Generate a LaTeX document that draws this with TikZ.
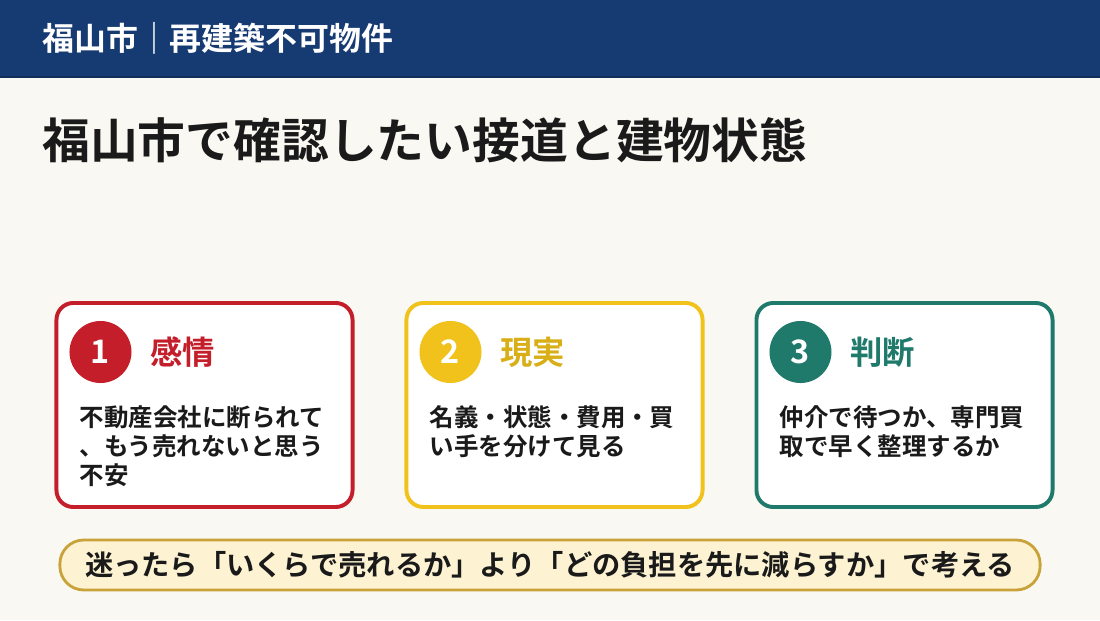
\documentclass[tikz,border=0pt]{standalone}
\usepackage{fontspec}
\setmainfont{Noto Sans CJK JP}[BoldFont={Noto Sans CJK JP Bold}]
\usepackage{xcolor}
\usetikzlibrary{positioning, calc}
\definecolor{navy}{HTML}{163A72}
\definecolor{paper}{HTML}{FAF8F2}
\definecolor{ink}{HTML}{1A1A1A}
\definecolor{feel}{HTML}{C41E2A}
\definecolor{fact}{HTML}{F1C21B}
\definecolor{judge}{HTML}{1F7A6C}
\definecolor{cream}{HTML}{FDF3D3}
\definecolor{gold}{HTML}{C9A23A}

\begin{document}
\begin{tikzpicture}[
  x=0.025cm, y=0.025cm,
  card/.style={draw=#1, line width=2.8pt, rounded corners=12pt, fill=white,
               minimum width=7.4cm, minimum height=5.1cm},
  badge/.style={circle, fill=#1, minimum size=1.55cm, inner sep=0pt,
                text=white, font=\fontsize{23}{23}\selectfont\bfseries},
  head/.style={text=#1, font=\fontsize{23}{23}\selectfont\bfseries, inner sep=0pt, anchor=west},
  body/.style={text=ink, font=\fontsize{17.4}{20.8}\selectfont\bfseries,
               align=left, inner sep=0pt, anchor=north west}
]
  \useasboundingbox (0,0) rectangle (1100,620);
  \fill[paper] (0,0) rectangle (1100,620);

  % header bar
  \fill[navy] (0,543) rectangle (1100,620);
  \draw[navy!80!black, line width=1pt] (0,543) -- (1100,543);
  \node[anchor=west, inner sep=0pt, text=white, font=\fontsize{22.7}{22.7}\selectfont\bfseries]
    (brand) at (42,582) {福山市｜再建築不可物件};

  % title
  \node[anchor=west, inner sep=0pt, text=ink, font=\fontsize{34}{34}\selectfont\bfseries]
    (title) at (42,480) {福山市で確認したい接道と建物状態};

  % cards
  \node[card=feel]  (c1) at (204.5,215) {};
  \node[card=fact]  (c2) at (554.5,215) {};
  \node[card=judge] (c3) at (904.5,215) {};

  \node[badge=feel]  (b1) at ($(c1.north west)+(46,-51)$) {1};
  \node[badge=fact]  (b2) at ($(c2.north west)+(46,-51)$) {2};
  \node[badge=judge] (b3) at ($(c3.north west)+(46,-51)$) {3};

  \node[head=feel,  right=13pt of b1.east, anchor=west] (h1) {感情};
  \node[head=fact!90!black, right=13pt of b2.east, anchor=west] (h2) {現実};
  \node[head=judge, right=13pt of b3.east, anchor=west] (h3) {判断};

  \node[body] (t1) at ($(c1.north west)+(25,-104)$) {不動産会社に断られて\\、もう売れないと思う\\不安};
  \node[body] (t2) at ($(c2.north west)+(25,-104)$) {名義・状態・費用・買\\い手を分けて見る};
  \node[body] (t3) at ($(c3.north west)+(25,-104)$) {仲介で待つか、専門買\\取で早く整理するか};

  % bottom note
  \node[draw=gold, line width=2pt, fill=cream, rounded corners=17pt,
        minimum width=24.5cm, minimum height=1.25cm, text=ink,
        font=\fontsize{20.1}{20.1}\selectfont\bfseries]
    (note) at (550,55) {迷ったら「いくらで売れるか」より「どの負担を先に減らすか」で考える};
\end{tikzpicture}
\end{document}
